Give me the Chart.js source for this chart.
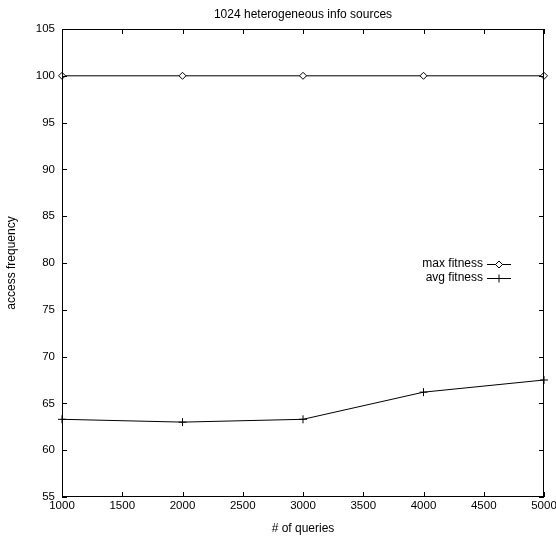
<!DOCTYPE html>
<html>
<head>
<meta charset="utf-8">
<script src="https://cdn.jsdelivr.net/npm/chart.js@4.4.0/dist/chart.umd.min.js"></script>
<style>
  html, body { margin: 0; padding: 0; background: #fff; }
</style>
</head>
<body>
<canvas id="chart" width="556" height="536"></canvas>
<script>
const queries = [1000, 2000, 3000, 4000, 5000]
const maxFitness = [100, 100, 100, 100, 100]
const avgFitness = [63.3, 63.0, 63.3, 66.2, 67.5]
const xTicks = [1000, 1500, 2000, 2500, 3000, 3500, 4000, 4500, 5000]
const yTicks = [55, 60, 65, 70, 75, 80, 85, 90, 95, 100, 105]

const FONT = 'Liberation Sans, Arial, Helvetica, sans-serif'

// gnuplot style: title, full frame, inward ticks on all four sides, key with samples
const gnuplotLook = {
  id: 'gnuplotLook',
  afterDatasetsDraw(chart) {
    const {ctx, chartArea: a, scales: {x, y}} = chart
    ctx.save()
    ctx.strokeStyle = '#000'
    ctx.lineWidth = 1
    ctx.strokeRect(a.left + 0.5, a.top + 0.5, a.right - a.left - 1, a.bottom - a.top - 1)
    const len = 5
    ctx.beginPath()
    xTicks.forEach(v => {
      const px = Math.round(x.getPixelForValue(v)) + 0.5
      ctx.moveTo(px, a.bottom); ctx.lineTo(px, a.bottom - len)
      ctx.moveTo(px, a.top); ctx.lineTo(px, a.top + len)
    })
    yTicks.forEach(v => {
      const py = Math.round(y.getPixelForValue(v)) + 0.5
      ctx.moveTo(a.left, py); ctx.lineTo(a.left + len, py)
      ctx.moveTo(a.right, py); ctx.lineTo(a.right - len, py)
    })
    ctx.stroke()

    // title
    ctx.fillStyle = '#000'
    ctx.font = '12px ' + FONT
    ctx.textAlign = 'center'
    ctx.textBaseline = 'middle'
    ctx.fillText('1024 heterogeneous info sources', (a.left + a.right) / 2, 15)

    // key
    const textRight = a.right - 61
    const s0 = a.right - 57, s1 = a.right - 33
    chart.data.datasets.forEach((ds, i) => {
      const ky = a.top + 235 + i * 14
      ctx.fillStyle = '#000'
      ctx.strokeStyle = '#000'
      ctx.textAlign = 'right'
      ctx.fillText(ds.label, textRight, ky)
      ctx.beginPath()
      ctx.moveTo(s0, ky + 0.5); ctx.lineTo(s1, ky + 0.5)
      ctx.stroke()
      ctx.fillStyle = ds.pointBackgroundColor
      Chart.helpers.drawPoint(ctx, {
        pointStyle: ds.pointStyle, radius: ds.pointRadius, borderWidth: 1, rotation: 0
      }, (s0 + s1) / 2, ky + 0.5)
    })
    ctx.restore()
  }
}

new Chart(document.getElementById('chart'), {
  type: 'line',
  data: {
    datasets: [{
      label: 'max fitness',
      data: queries.map((q, i) => ({x: q, y: maxFitness[i]})),
      borderColor: '#000',
      borderWidth: 1,
      pointStyle: 'rectRot',
      pointRadius: 3.5,
      pointBorderColor: '#000',
      pointBackgroundColor: '#fff',
      pointBorderWidth: 1,
      clip: false
    }, {
      label: 'avg fitness',
      data: queries.map((q, i) => ({x: q, y: avgFitness[i]})),
      borderColor: '#000',
      borderWidth: 1,
      pointStyle: 'cross',
      pointRadius: 4,
      pointBorderColor: '#000',
      pointBackgroundColor: '#fff',
      pointBorderWidth: 1,
      clip: false
    }]
  },
  options: {
    responsive: false,
    animation: false,
    layout: { padding: { top: 29, right: 12, left: 0, bottom: 0 } },
    plugins: {
      legend: { display: false },
      tooltip: { enabled: false }
    },
    scales: {
      x: {
        type: 'linear',
        min: 1000, max: 5000,
        afterBuildTicks: s => { s.ticks = xTicks.map(v => ({value: v})) },
        afterFit: s => { s.height = 39; s.paddingLeft = 0; s.paddingRight = 0 },
        grid: { display: false, drawTicks: false },
        border: { display: false },
        ticks: {
          color: '#000', padding: 2, maxRotation: 0,
          font: { family: FONT, size: 11.5 },
          callback: v => String(v)
        },
        title: { display: true, text: '# of queries', color: '#000', padding: { top: 0, bottom: 0 }, font: { family: FONT, size: 12 } }
      },
      y: {
        min: 55, max: 105,
        afterBuildTicks: s => { s.ticks = yTicks.map(v => ({value: v})) },
        afterFit: s => { s.width = 62; s.paddingTop = 0; s.paddingBottom = 0 },
        grid: { display: false, drawTicks: false },
        border: { display: false },
        ticks: { color: '#000', padding: 7, font: { family: FONT, size: 11.5 }, callback: v => String(v) },
        title: { display: true, text: 'access frequency', color: '#000', padding: { top: 4, bottom: 0 }, font: { family: FONT, size: 12 } }
      }
    }
  },
  plugins: [gnuplotLook]
})
</script>
</body>
</html>
